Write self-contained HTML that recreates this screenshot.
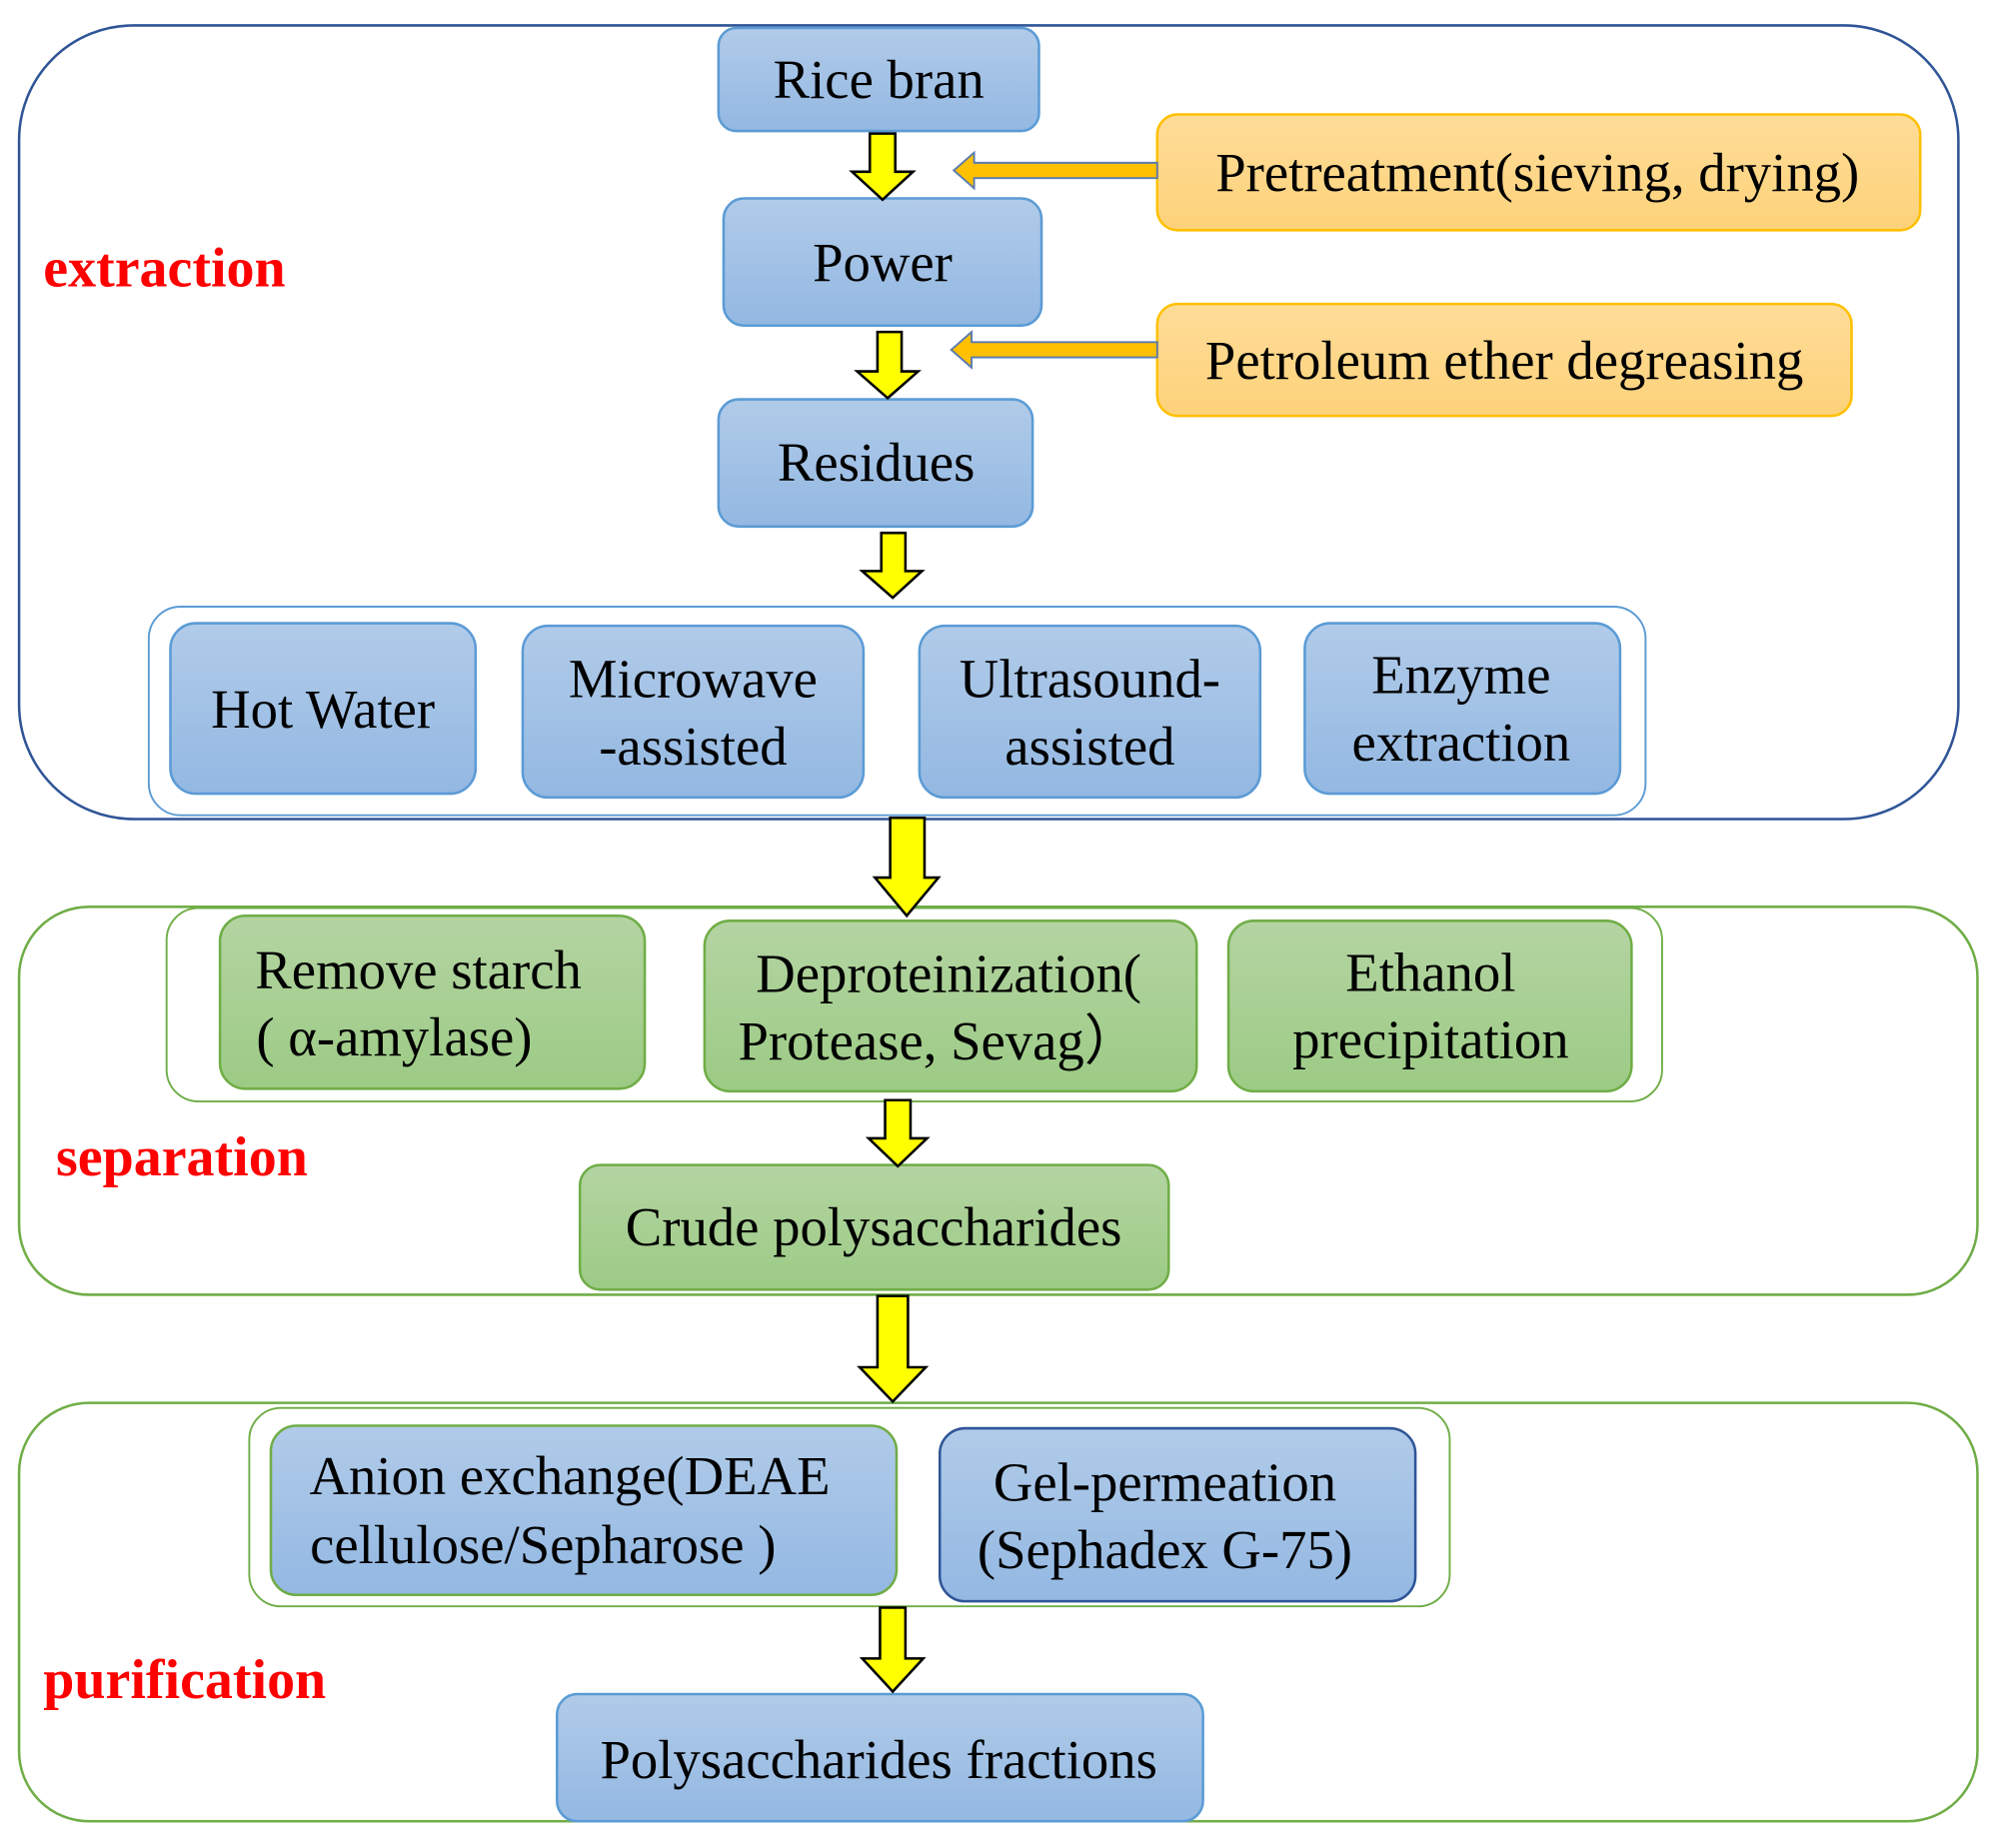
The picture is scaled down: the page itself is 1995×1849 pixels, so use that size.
<!DOCTYPE html>
<html><head><meta charset="utf-8"><style>html,body{margin:0;padding:0;background:#fff}svg{display:block}</style></head>
<body>
<svg width="1995" height="1849" viewBox="0 0 1568 1453" preserveAspectRatio="none" xmlns="http://www.w3.org/2000/svg" font-family="Liberation Serif, serif">
<defs>
<linearGradient id="bl" x1="0" y1="0" x2="0" y2="1"><stop offset="0" stop-color="#b1cbe9"/><stop offset="1" stop-color="#93b8e2"/></linearGradient>
<linearGradient id="gr" x1="0" y1="0" x2="0" y2="1"><stop offset="0" stop-color="#b4d4a2"/><stop offset="1" stop-color="#9ccb85"/></linearGradient>
<linearGradient id="or" x1="0" y1="0" x2="0" y2="1"><stop offset="0" stop-color="#fedc98"/><stop offset="1" stop-color="#fdd27a"/></linearGradient>
</defs>
<rect x="15" y="20" width="1525" height="624" rx="90" fill="none" stroke="#2f5597" stroke-width="2"/>
<rect x="15" y="713" width="1540" height="305" rx="55" fill="none" stroke="#70ad47" stroke-width="2"/>
<rect x="15" y="1103" width="1540" height="329" rx="55" fill="none" stroke="#70ad47" stroke-width="2"/>
<rect x="117" y="477" width="1177" height="164" rx="25" fill="#fff" stroke="#5b9bd5" stroke-width="1.5"/>
<rect x="131" y="714" width="1176" height="152" rx="25" fill="#fff" stroke="#70ad47" stroke-width="1.5"/>
<rect x="196" y="1107" width="944" height="156" rx="25" fill="#fff" stroke="#70ad47" stroke-width="1.5"/>
<g stroke="#5b9bd5" stroke-width="2" fill="url(#bl)">
<rect x="565" y="22" width="252" height="81" rx="14"/>
<rect x="569" y="156" width="250" height="100" rx="16"/>
<rect x="565" y="314" width="247" height="100" rx="16"/>
<rect x="134" y="490" width="240" height="134" rx="20"/>
<rect x="411" y="492" width="268" height="135" rx="20"/>
<rect x="723" y="492" width="268" height="135" rx="20"/>
<rect x="1026" y="490" width="248" height="134" rx="20"/>
<rect x="438" y="1332" width="508" height="100" rx="16"/>
</g>
<rect x="213" y="1121" width="492" height="133" rx="20" fill="url(#bl)" stroke="#70ad47" stroke-width="2"/>
<rect x="739" y="1123" width="374" height="136" rx="20" fill="url(#bl)" stroke="#2f5597" stroke-width="2"/>
<g stroke="#70ad47" stroke-width="2" fill="url(#gr)">
<rect x="173" y="720" width="334" height="136" rx="20"/>
<rect x="554" y="724" width="387" height="134" rx="20"/>
<rect x="966" y="724" width="317" height="134" rx="20"/>
<rect x="456" y="916" width="463" height="98" rx="16"/>
</g>
<g stroke="#ffc000" stroke-width="2" fill="url(#or)">
<rect x="910" y="90" width="600" height="91" rx="16"/>
<rect x="910" y="239" width="546" height="88" rx="16"/>
</g>
<g fill="#ffc000" stroke="#5a7bb0" stroke-width="1.5">
<polygon points="910,128 766,128 766,120 750,134 766,148 766,140 910,140"/>
<polygon points="910,269 764,269 764,261 748,275 764,289 764,281 910,281"/>
</g>
<g fill="#ffff00" stroke="#000" stroke-width="2" stroke-linejoin="miter">
<polygon points="684,105 704,105 704,135 718,135 694,157 670,135 684,135"/>
<polygon points="690,261 709,261 709,292 722,292 698,313 674,292 690,292"/>
<polygon points="693,419 712,419 712,449 725,449 702,470 678,449 693,449"/>
<polygon points="700,643 727,643 727,690 738,690 713,720 688,690 700,690"/>
<polygon points="696,865 716,865 716,895 729,895 706,917 683,895 696,895"/>
<polygon points="690,1019 714,1019 714,1075 728,1075 702,1102 676,1075 690,1075"/>
<polygon points="692,1264 712,1264 712,1304 726,1304 702,1330 678,1304 692,1304"/>
</g>
<g font-size="43" fill="#000" text-anchor="middle">
<text x="691" y="77">Rice bran</text>
<text x="694" y="221">Power</text>
<text x="689" y="378">Residues</text>
<text x="1209" y="150">Pretreatment(sieving, drying)</text>
<text x="1183" y="298">Petroleum ether degreasing</text>
<text x="254" y="572">Hot Water</text>
<text x="545" y="548">Microwave</text>
<text x="545" y="601">-assisted</text>
<text x="857" y="548">Ultrasound-</text>
<text x="857" y="601">assisted</text>
<text x="1149" y="545">Enzyme</text>
<text x="1149" y="598">extraction</text>
<text x="329" y="777">Remove starch</text>
<text x="310" y="830">( α-amylase)</text>
<text x="746" y="780">Deproteinization(</text>
<text x="738" y="833">Protease, Sevag）</text>
<text x="1125" y="779">Ethanol</text>
<text x="1125" y="832">precipitation</text>
<text x="687" y="979">Crude polysaccharides</text>
<text x="448" y="1175">Anion exchange(DEAE</text>
<text x="427" y="1229">cellulose/Sepharose )</text>
<text x="916" y="1180">Gel-permeation</text>
<text x="916" y="1233">(Sephadex G-75)</text>
<text x="691" y="1398">Polysaccharides fractions</text>
</g>
<g font-size="44" font-weight="bold" fill="#ff0000">
<text x="34" y="225">extraction</text>
<text x="44" y="924">separation</text>
<text x="34" y="1335">purification</text>
</g>
</svg>
</body></html>
